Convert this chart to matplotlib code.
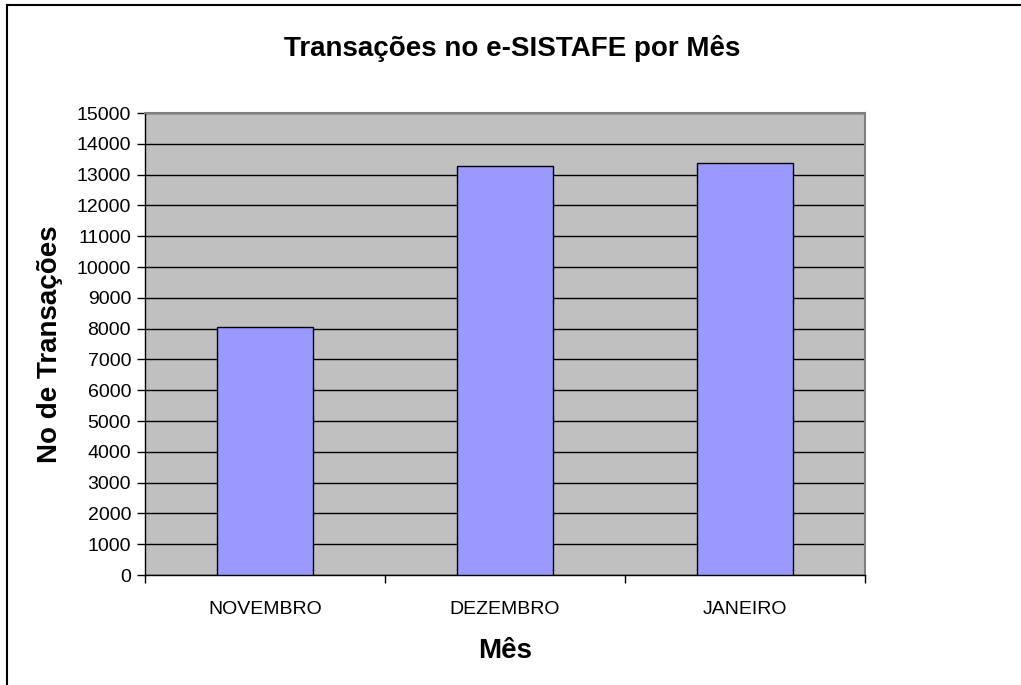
import matplotlib
matplotlib.use('Agg')
import matplotlib.pyplot as plt
from matplotlib.lines import Line2D

plt.rcParams['font.family'] = ['Liberation Sans', 'DejaVu Sans']

meses = ['NOVEMBRO', 'DEZEMBRO', 'JANEIRO']
transacoes = [8050, 13280, 13380]
y_ticks = list(range(0, 15001, 1000))

fig = plt.figure(figsize=(10.21, 6.85), dpi=100)
ax = fig.add_axes([145 / 1021, 1 - 575 / 685, 720 / 1021, 462 / 685])

ax.set_facecolor('#c0c0c0')
x = list(range(len(meses)))
ax.bar(x, transacoes, width=0.4, color='#9999ff', edgecolor='black',
       linewidth=1, zorder=3)

ax.set_xlim(-0.5, len(meses) - 0.5)
ax.set_ylim(0, 15000)
ax.set_yticks(y_ticks)
ax.set_yticklabels([str(v) for v in y_ticks], fontsize=14)
ax.yaxis.grid(True, color='black', linewidth=1, zorder=1)
ax.set_axisbelow(True)

# category ticks at boundaries, labels centred
ax.set_xticks([i - 0.5 for i in range(len(meses) + 1)])
ax.set_xticklabels([])
ax.set_xticks(x, minor=True)
ax.set_xticklabels(meses, minor=True, fontsize=14)
ax.tick_params(axis='x', which='minor', length=0, pad=19)
ax.tick_params(axis='x', which='major', length=6, width=1, direction='out')
ax.tick_params(axis='y', length=6, width=1, direction='out', pad=4)

for side in ['top', 'right']:
    ax.spines[side].set_color('#808080')
    ax.spines[side].set_linewidth(1.5)
for side in ['left', 'bottom']:
    ax.spines[side].set_color('black')
    ax.spines[side].set_linewidth(1)

ax.set_xlabel('Mês', fontsize=20, fontweight='bold', labelpad=14)
ax.set_ylabel('No de Transações', fontsize=20, fontweight='bold', labelpad=10)
fig.text(512 / 1021, 1 - 48 / 685, 'Transações no e-SISTAFE por Mês',
         fontsize=20, fontweight='bold', ha='center', va='center')

# chart frame (cut off at right and bottom)
fig.add_artist(Line2D([7 / 1021, 1], [1 - 5 / 685, 1 - 5 / 685],
                      color='black', linewidth=1.5, transform=fig.transFigure))
fig.add_artist(Line2D([7 / 1021, 7 / 1021], [0, 1 - 5 / 685],
                      color='black', linewidth=1.5, transform=fig.transFigure))

fig.savefig('out.png', dpi=100)
